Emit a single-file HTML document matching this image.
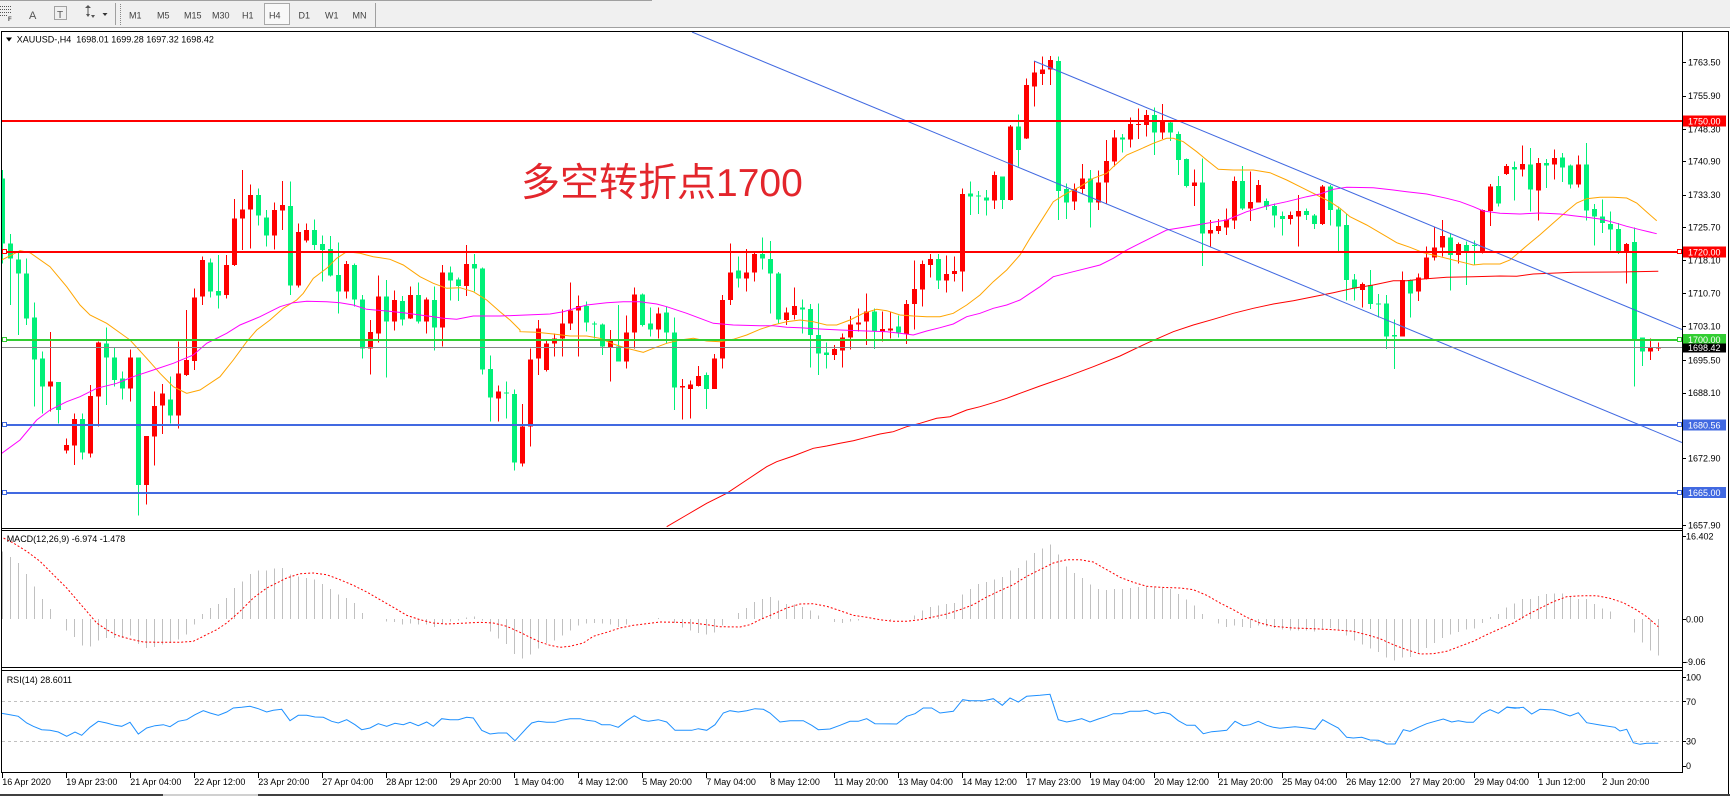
<!DOCTYPE html>
<html><head><meta charset="utf-8">
<style>
html,body{margin:0;padding:0;background:#fff;width:1730px;height:796px;overflow:hidden}
svg{display:block}
text{font-family:"Liberation Sans","Noto Sans CJK SC",sans-serif;font-size:9px;fill:#000}
.tb{fill:#404040;font-size:9px}
.ax{font-size:9px}
.bd{fill:#fff;font-size:9px}
</style></head><body>
<svg id="c" width="1730" height="796" viewBox="0 0 1730 796" xmlns="http://www.w3.org/2000/svg">
<defs>
<clipPath id="cm"><rect x="2" y="32" width="1680" height="496"/></clipPath>
<clipPath id="cd"><rect x="2" y="531" width="1680" height="136"/></clipPath>
<clipPath id="cr"><rect x="2" y="671" width="1680" height="101"/></clipPath>
</defs>
<rect width="1730" height="796" fill="#fff"/>
<!-- toolbar -->
<rect x="0" y="0" width="1730" height="27.5" fill="#f0f0f0"/>
<rect x="0" y="0" width="652" height="1" fill="#a0a0a0"/>
<rect x="0" y="27" width="1730" height="1" fill="#a0a0a0"/>
<g stroke="#555" stroke-width="1" stroke-dasharray="1 1" shape-rendering="crispEdges">
<line x1="0" y1="6.5" x2="11" y2="6.5"/><line x1="0" y1="9.5" x2="11" y2="9.5"/><line x1="0" y1="12.5" x2="11" y2="12.5"/><line x1="0" y1="15.5" x2="7" y2="15.5"/>
<rect x="54.5" y="6.5" width="12" height="13" fill="none"/>
</g>
<text x="8" y="21" style="font-size:6px;font-weight:bold;fill:#444">F</text>
<text x="29" y="19" style="font-size:11px;fill:#555">A</text>
<text x="57" y="18" style="font-size:10px;fill:#555">T</text>
<path d="M85 8 L88 5 L91 8 Z M86 14 L90 14 L88 17 Z M91 15 L95 15 L93 18 Z" fill="#555"/>
<line x1="88" y1="8" x2="88" y2="14" stroke="#555"/>
<path d="M102.5 13 L107.5 13 L105 16 Z" fill="#333"/>
<rect x="115" y="3" width="1" height="22" fill="#a0a0a0"/>
<g stroke="#888" stroke-dasharray="1 1"><line x1="120.5" y1="4" x2="120.5" y2="25"/></g>
<rect x="264.5" y="3.5" width="25" height="21" fill="#f8f8f8" stroke="#a8a8a8"/>
<text class="tb" x="129" y="18.5">M1</text>
<text class="tb" x="157" y="18.5">M5</text>
<text class="tb" x="184" y="18.5">M15</text>
<text class="tb" x="212" y="18.5">M30</text>
<text class="tb" x="242" y="18.5">H1</text>
<text class="tb" x="269" y="18.5">H4</text>
<text class="tb" x="298.5" y="18.5">D1</text>
<text class="tb" x="325" y="18.5">W1</text>
<text class="tb" x="352.5" y="18.5">MN</text>
<rect x="375" y="3" width="1" height="24" fill="#a0a0a0"/>

<!-- frames -->
<g shape-rendering="crispEdges" fill="#000">
<rect x="1" y="31" width="1728" height="1"/>
<rect x="1" y="31" width="1" height="742"/>
<rect x="1728" y="31" width="1" height="765"/>
<rect x="1682" y="31" width="1" height="742"/>
<rect x="1" y="528" width="1682" height="1"/>
<rect x="1" y="530" width="1682" height="1"/>
<rect x="1" y="667" width="1682" height="1"/>
<rect x="1" y="670" width="1682" height="1"/>
<rect x="1" y="772" width="1682" height="1"/>
<rect x="0" y="794" width="1730" height="2" fill="#404040"/>
<rect x="163" y="794" width="95" height="2" fill="#d0d0d0"/>
</g>

<g id="main" clip-path="url(#cm)"></g>
<g id="macd" clip-path="url(#cd)"></g>
<g id="rsi" clip-path="url(#cr)"></g>

<!-- title -->
<polygon points="6,37.5 12,37.5 9,41.5" fill="#000"/>
<text x="16.7" y="42.5" xml:space="preserve">XAUUSD-,H4  1698.01 1699.28 1697.32 1698.42</text>
<text x="6.7" y="542" >MACD(12,26,9) -6.974 -1.478</text>
<text x="6.7" y="683">RSI(14) 28.6011</text>

<text x="521" y="196" style="font-size:39px;fill:#e3262c">多空转折点1700</text>

<!-- price axis -->
<g id="ticks" fill="#000" shape-rendering="crispEdges"></g>
<g class="ax">
<text x="1688" y="65.6">1763.50</text>
<text x="1688" y="99">1755.90</text>
<text x="1688" y="132.3">1748.30</text>
<text x="1688" y="164.6">1740.90</text>
<text x="1688" y="198">1733.30</text>
<text x="1688" y="230.6">1725.70</text>
<text x="1688" y="263.6">1718.10</text>
<text x="1688" y="296.6">1710.70</text>
<text x="1688" y="329.3">1703.10</text>
<text x="1688" y="363.3">1695.50</text>
<text x="1688" y="396">1688.10</text>
<text x="1688" y="461.6">1672.90</text>
<text x="1688" y="528.3">1657.90</text>
<text x="1686" y="539.3">16.402</text>
<text x="1686" y="622.6">0.00</text>
<text x="1685" y="665">-9.06</text>
<text x="1686" y="680.6">100</text>
<text x="1686" y="705">70</text>
<text x="1686" y="744.6">30</text>
<text x="1686" y="769">0</text>
</g>
<!-- badges -->
<g shape-rendering="crispEdges">
<rect x="1683" y="115.5" width="43" height="11" fill="#ff0000"/>
<rect x="1683" y="246.5" width="43" height="11" fill="#ff0000"/>
<rect x="1683" y="334" width="43" height="10.5" fill="#32cd32"/>
<rect x="1683" y="343.5" width="43" height="9" fill="#000"/>
<rect x="1683" y="419.5" width="43" height="11" fill="#4169e1"/>
<rect x="1683" y="487" width="43" height="11" fill="#4169e1"/>
</g>
<text class="bd" x="1688" y="124.3">1750.00</text>
<text class="bd" x="1688" y="255.3">1720.00</text>
<text class="bd" x="1688" y="342.8">1700.00</text>
<text class="bd" x="1688" y="351">1698.42</text>
<text class="bd" x="1688" y="428.3">1680.56</text>
<text class="bd" x="1688" y="495.8">1665.00</text>

<!-- time axis -->
<g id="tt" fill="#000" shape-rendering="crispEdges"></g>
<g class="ax">
<text x="2.3" y="785">16 Apr 2020</text>
<text x="66.3" y="785">19 Apr 23:00</text>
<text x="130.3" y="785">21 Apr 04:00</text>
<text x="194.3" y="785">22 Apr 12:00</text>
<text x="258.3" y="785">23 Apr 20:00</text>
<text x="322.3" y="785">27 Apr 04:00</text>
<text x="386.3" y="785">28 Apr 12:00</text>
<text x="450.3" y="785">29 Apr 20:00</text>
<text x="514.3" y="785">1 May 04:00</text>
<text x="578.3" y="785">4 May 12:00</text>
<text x="642.3" y="785">5 May 20:00</text>
<text x="706.3" y="785">7 May 04:00</text>
<text x="770.3" y="785">8 May 12:00</text>
<text x="834.3" y="785">11 May 20:00</text>
<text x="898.3" y="785">13 May 04:00</text>
<text x="962.3" y="785">14 May 12:00</text>
<text x="1026.3" y="785">17 May 23:00</text>
<text x="1090.3" y="785">19 May 04:00</text>
<text x="1154.3" y="785">20 May 12:00</text>
<text x="1218.3" y="785">21 May 20:00</text>
<text x="1282.3" y="785">25 May 04:00</text>
<text x="1346.3" y="785">26 May 12:00</text>
<text x="1410.3" y="785">27 May 20:00</text>
<text x="1474.3" y="785">29 May 04:00</text>
<text x="1538.3" y="785">1 Jun 12:00</text>
<text x="1602.3" y="785">2 Jun 20:00</text>
</g>
</svg>
<script>
(function(){
var S='http://www.w3.org/2000/svg';
function el(tag,a,p){var e=document.createElementNS(S,tag);for(var k in a)e.setAttribute(k,a[k]);p.appendChild(e);return e;}
var M=document.getElementById('main'),D=document.getElementById('macd'),R=document.getElementById('rsi');
var G='#00f078',RD='#ff0000';
var C="g,445,640,420,700|g,640,685,612,825|g,688,730,665,915|g,730,865,685,885|g,862,988,818,1130|g,985,1070,965,1150|r,1055,1070,906,1145|g,1056,1140,1056,1180|r,1245,1262,1225,1270|r,1167,1247,1150,1305|g,1167,1268,1150,1288|r,1098,1270,1065,1282|r,938,1100,935,1190|g,940,983,893,1125|g,982,1050,952,1070|g,1045,1075,1025,1108|r,982,1075,958,1115|g,982,1365,982,1457|r,1218,1365,1218,1423|r,1128,1220,1085,1307|r,1090,1127,1062,1212|g,1108,1157,1040,1180|r,1030,1157,935,1195|r,990,1035,840,1038|r,802,993,775,1020|r,690,800,680,825|g,697,785,686,802|g,783,797,675,835|r,705,795,675,805|r,565,705,507,708|r,538,565,420,660|r,495,538,463,655|g,495,557,475,587|g,562,617,540,650|r,540,617,518,658|r,525,542,453,600|g,528,767,455,795|r,606,767,580,772|r,600,632,580,637|g,600,645,568,660|g,642,660,617,755|g,657,737,618,740|g,735,785,638,850|r,702,785,693,805|g,705,808,700,830|g,808,955,795,985|r,906,955,870,1033|r,800,910,737,937|g,800,875,750,1042|r,810,875,782,902|g,813,868,798,887|r,795,865,770,867|g,795,875,757,880|r,808,875,802,910|g,810,892,770,962|r,728,892,705,950|g,728,752,710,812|g,748,768,743,813|r,702,768,645,798|g,702,715,672,785|g,715,1018,712,1033|g,1017,1102,977,1175|r,1085,1105,1067,1175|g,1088,1090,1055,1165|g,1092,1297,1078,1322|r,1190,1300,1122,1310|r,988,1190,955,1250|r,895,985,870,1035|r,940,1020,930,1025|r,925,940,910,980|r,880,925,838,980|r,842,880,757,900|r,828,842,796,980|g,828,878,815,905|g,880,884,875,925|g,883,950,880,975|r,930,952,900,1055|g,950,995,825,995|r,907,995,857,1015|r,793,907,772,955|g,793,885,790,890|g,880,898,832,920|r,850,898,832,925|g,847,908,830,940|g,907,1072,862,1140|r,1068,1073,1047,1168|r,1063,1077,1052,1165|r,1038,1068,1008,1070|g,1035,1077,1028,1137|r,985,1077,972,1077|r,810,985,795,1015|r,727,810,640,825|g,722,745,680,772|r,727,745,657,785|r,672,728,668,755|g,672,685,622,718|g,687,730,633,850|g,730,868,726,880|r,847,870,832,885|r,828,855,772,868|g,832,838,808,910|g,837,915,822,1012|g,915,970,820,1035|g,968,975,938,1015|r,957,975,945,990|r,922,962,910,1012|r,883,922,858,958|r,877,883,835,905|r,845,875,790,945|g,845,903,835,957|r,897,905,845,935|r,895,902,845,925|g,890,908,857,922|r,822,912,810,942|r,777,822,692,898|r,702,778,692,830|r,687,705,672,742|g,687,752,672,777|r,732,752,677,787|r,723,732,680,755|r,492,725,475,785|g,490,500,455,555|g,497,500,483,552|g,502,512,480,557|r,435,512,425,537|g,440,510,440,537|r,290,510,285,512|g,290,360,253,410|r,165,325,145,327|r,128,170,95,230|r,118,132,80,165|r,90,118,78,165|g,93,483,80,570|g,477,518,460,567|r,477,515,460,540|r,445,477,402,490|g,445,518,420,593|r,457,517,422,540|r,393,458,330,520|r,322,395,300,410|g,322,328,312,367|r,282,328,262,353|r,282,284,235,327|r,255,285,240,320|g,255,308,232,375|r,275,308,222,327|g,278,308,275,333|g,312,390,305,435|g,387,468,385,472|r,457,468,418,528|g,457,610,385,708|r,600,610,570,652|r,588,603,567,612|r,568,593,535,615|r,453,572,440,597|g,453,535,408,540|r,516,535,425,573|r,465,518,450,518|g,513,530,505,540|g,528,557,520,593|g,558,567,545,617|r,555,567,545,583|r,543,560,495,650|g,543,555,535,570|g,557,582,552,597|r,470,582,465,585|g,470,540,465,587|g,538,590,530,665|g,585,750,550,812|g,748,775,732,812|r,762,780,757,833|g,765,822,720,837|g,820,822,792,862|g,820,920,795,957|g,915,920,868,1017|r,750,920,725,920|g,750,790,748,862|r,742,785,730,813|r,682,747,650,748|r,652,682,590,692|r,618,652,570,680|g,622,675,610,782|r,642,675,638,700|g,645,665,635,765|g,645,647,632,705|r,540,665,538,670|r,470,543,462,588|g,468,520,438,530|r,408,432,402,435|g,411,419,394,512|r,402,419,347,439|g,404,479,354,544|r,399,482,384,572|g,399,407,387,474|r,384,404,359,449|g,382,412,369,456|g,407,464,404,476|r,404,464,377,472|g,404,542,339,572|g,537,559,522,646|g,559,579,509,609|g,582,599,544,662|g,597,664,579,672|r,642,666,639,761|g,636,932,592,1070|g,923,965,923,1008|r,953,965,925,990|r,952,956,938,963".split('|');
var cg=el('g',{'shape-rendering':'crispEdges'},M);
for(var n=0;n<C.length;n++){var a=C[n].split(','),col=a[0]=='r'?RD:G;
 var bt=30+(+a[1])/3,bb=30+(+a[2])/3,wt=30+(+a[3])/3,wb=30+(+a[4])/3;
 el('rect',{x:2+8*n,y:wt.toFixed(1),width:1,height:Math.max(1,wb-wt).toFixed(1),fill:col},cg);
 el('rect',{x:8*n,y:bt.toFixed(1),width:5,height:Math.max(1,bb-bt).toFixed(1),fill:col},cg);
}
function P(x0,y0,a){return a.map(function(p){return (x0+p[0]/3).toFixed(1)+','+(y0+p[1]/3).toFixed(1);}).join(' ');}
function pl(par,pts,col,ex){var o={points:pts,fill:'none',stroke:col,'stroke-width':1};for(var k in (ex||{}))o[k]=ex[k];el('polyline',o,par);}
// MAs
pl(M,[P(0,30,[[5,690],[60,662],[90,668],[150,710],[200,770],[240,825],[270,855],[320,880],[390,930],[440,985],[480,1030],[520,1070],[560,1090],[600,1080],[660,1040],[700,990],[740,935],[770,900],[810,870],[850,835],[890,810],[910,790],[940,745],[980,715],[1010,685],[1040,665],[1080,670],[1120,680],[1170,688],[1210,705],[1260,740],[1300,760],[1340,775],[1380,773],[1420,785],[1460,810],[1500,845],[1530,870],[1560,900]]),
P(520,30,[[0,905],[50,907],[100,912],[150,918],[200,918],[240,925],[280,942],[320,955],[370,967],[400,955],[440,940],[480,930],[520,925],[560,933],[600,935],[640,928],[680,915],[720,898],[760,885],[800,875],[840,870],[880,875],[920,885],[950,885],[990,870],[1030,850],[1070,838],[1100,842],[1140,855],[1180,858],[1220,860],[1260,860],[1300,850],[1340,825],[1380,795],[1420,755],[1460,720],[1500,675],[1530,625],[1560,578]]),
P(1040,30,[[40,515],[80,490],[120,470],[160,445],[200,430],[220,410],[260,375],[300,358],[340,340],[380,325],[400,325],[430,335],[470,365],[500,390],[535,418],[580,420],[640,420],[690,428],[740,450],[790,475],[830,495],[870,515],[900,535],[930,560],[980,585],[1040,620],[1070,638],[1110,652],[1150,668],[1200,680],[1240,690],[1280,700],[1300,705],[1330,702],[1380,702],[1410,690]]),
P(1500,28,[[40,688],[80,653],[120,620],[160,585],[200,550],[230,525],[260,512],[300,508],[340,508],[380,510],[410,525],[440,552],[470,578]])].join(' '),'#ffa500');
pl(M,[P(0,30,[[5,1270],[60,1230],[110,1170],[150,1140],[200,1115],[240,1100],[290,1075],[350,1060],[400,1040],[460,1020],[520,1000],[580,975],[620,940],[680,910],[720,885],[780,860],[840,830],[880,818],[920,814],[980,815],[1020,818],[1060,825],[1100,838],[1160,843],[1210,848],[1260,855],[1300,860],[1330,865],[1370,868],[1420,858],[1500,858],[1560,856]]),
P(520,30,[[90,852],[130,845],[200,825],[260,818],[310,815],[360,815],[410,822],[440,830],[500,850],[540,865],[580,880],[640,885],[720,887],[760,887],[800,892],[840,893],[900,897],[960,900],[1040,903],[1100,905],[1140,910],[1180,915],[1220,903],[1260,893],[1300,882],[1340,860],[1380,850],[1420,835],[1460,825],[1500,810],[1530,790],[1560,770]]),
P(1040,30,[[40,740],[100,725],[180,705],[220,685],[260,660],[300,640],[340,620],[380,600],[440,590],[500,580],[560,570],[620,545],[680,528],[740,515],[800,500],[840,492],[880,478],[920,472],[1000,473],[1060,480],[1100,485],[1160,492],[1220,505],[1260,515],[1300,530],[1330,543],[1380,550]]),
P(1500,28,[[60,558],[120,555],[180,558],[220,563],[260,568],[300,573],[340,583],[380,595],[420,605],[470,617]])].join(' '),'#ff00ff');
pl(M,[P(520,30,[[440,1490],[500,1455],[560,1420],[620,1390],[680,1350],[740,1310],[770,1295],[820,1278],[880,1255],[920,1248],[960,1240],[1000,1232],[1040,1222],[1080,1212],[1120,1205],[1160,1190],[1200,1180],[1250,1165],[1290,1160],[1340,1140],[1380,1130],[1420,1118],[1460,1105],[1500,1090],[1560,1068]]),
P(1040,30,[[80,1040],[160,1010],[240,978],[320,940],[400,905],[460,885],[520,868],[580,850],[640,835],[700,822],[760,812],[820,800],[880,788],[940,775],[1000,765],[1060,752],[1100,752],[1140,748],[1220,742],[1300,740],[1380,738]]),
P(1500,28,[[50,745],[100,738],[220,733],[360,732],[475,730]])].join(' '),'#ff0000');
// trend lines
el('line',{x1:692,y1:32,x2:1682,y2:442.5,stroke:'#4169e1','stroke-width':1},M);
el('line',{x1:1034,y1:61,x2:1682,y2:329.5,stroke:'#4169e1','stroke-width':1},M);
// horizontal lines
var hg=el('g',{'shape-rendering':'crispEdges'},M);
el('rect',{x:2,y:120,width:1680,height:2,fill:'#ff0000'},hg);
el('rect',{x:2,y:251,width:1680,height:2,fill:'#ff0000'},hg);
el('rect',{x:2,y:347,width:1680,height:1,fill:'#888'},hg);
el('rect',{x:2,y:339,width:1680,height:2,fill:'#32cd32'},hg);
el('rect',{x:2,y:424,width:1680,height:2,fill:'#4169e1'},hg);
el('rect',{x:2,y:492,width:1680,height:2,fill:'#4169e1'},hg);
[[252,'#ff0000'],[340,'#32cd32'],[425,'#4169e1'],[493,'#4169e1']].forEach(function(m){
 el('rect',{x:2.5,y:m[0]-2.5,width:4,height:4,fill:'#fff',stroke:m[1],'stroke-width':1},M);
 el('rect',{x:1677.5,y:m[0]-2.5,width:4,height:4,fill:'#fff',stroke:m[1],'stroke-width':1},M);
});
// MACD histogram
var H=[70,87,105,138,175,213,243,273,308,327,352,355,338,330,330,330,322,348,360,357,350,345,335,320,290,258,240,228,210,180,160,138,128,128,122,120,140,145,150,155,168,183,200,210,225,255,272,273,280,282,290,287,290,290,297,287,280,277,268,265,278,310,332,348,378,392,380,362,345,338,323,308,293,287,285,287,290,297,290,273,273,273,270,272,285,298,308,315,320,313,293,272,255,240,222,213,207,218,228,230,237,248,263,273,282,285,280,278,273,273,274,276,272,272,263,248,237,233,228,225,200,183,168,162,155,147,127,120,97,75,62,50,80,115,135,150,170,183,186,183,183,180,177,175,178,180,183,198,215,232,258,273,287,297,293,297,300,293,295,300,305,308,307,308,310,302,300,305,322,338,350,362,372,388,398,388,387,378,360,345,330,320,312,305,302,285,267,258,238,226,213,213,204,198,196,196,204,213,213,228,241,251,271,274,314,344,368,383];
var hgd=el('g',{'shape-rendering':'crispEdges'},D);
for(var i=0;i<H.length;i++){var y=528+H[i]/3,z=619;if(Math.abs(y-z)<0.7)continue;
 el('rect',{x:2+8*i,y:Math.min(y,z).toFixed(1),width:1,height:Math.abs(y-z).toFixed(1),fill:'#c0c0c0'},hgd);}
pl(D,[P(0,528,[[0,25],[40,45],[80,70],[120,100],[160,140],[200,180],[230,215],[260,250],[290,285],[320,305],[350,322],[390,333],[430,342],[480,343],[540,343],[580,340],[610,325],[650,305],[680,285],[720,250],[760,210],[800,180],[830,165],[860,150],[900,137],[940,135],[980,140],[1020,155],[1060,172],[1100,192],[1140,215],[1180,238],[1220,262],[1260,275],[1300,285],[1340,288],[1400,285],[1440,283],[1480,285],[1520,295],[1560,313]]),
P(520,528,[[30,328],[60,342],[90,352],[120,358],[150,355],[190,345],[220,325],[260,313],[300,300],[340,292],[380,287],[420,282],[470,283],[520,285],[560,290],[600,296],[660,297],[690,290],[720,275],[760,258],[800,240],[840,228],[880,227],[920,235],[960,248],[1000,262],[1040,268],[1080,275],[1120,280],[1160,280],[1200,275],[1240,267],[1280,258],[1320,245],[1360,230],[1400,207],[1440,188],[1480,170],[1520,145],[1560,125]]),
P(1040,528,[[40,105],[80,95],[120,95],[160,102],[200,125],[240,148],[280,163],[320,175],[360,178],[420,180],[460,185],[500,202],[540,225],[580,245],[620,268],[660,285],[700,295],[760,300],[820,302],[880,305],[940,310],[980,320],[1020,332],[1060,350],[1100,365],[1140,378],[1180,377],[1220,370],[1260,355],[1300,340],[1340,320],[1380,302],[1420,285]]),
P(1500,530,[[80,255],[120,235],[160,215],[200,200],[250,197],[290,197],[330,205],[370,218],[410,240],[440,260],[475,290]])].join(' '),'#ff0000',{'stroke-dasharray':'2 2'});
// RSI levels
el('line',{x1:2,y1:701.5,x2:1682,y2:701.5,stroke:'#c0c0c0','stroke-dasharray':'3 3'},R);
el('line',{x1:2,y1:741.5,x2:1682,y2:741.5,stroke:'#c0c0c0','stroke-dasharray':'3 3'},R);
pl(R,[P(0,528,[[0,555],[30,560],[55,565],[80,585],[100,595],[125,605],[150,607],[175,612],[200,625],[225,612],[245,622],[270,598],[295,580],[320,585],[345,592],[365,595],[390,583],[415,618],[440,600],[465,593],[490,590],[510,596],[535,580],[560,575],[585,560],[610,548],[630,555],[655,562],[680,552],[700,540],[725,538],[750,535],[775,542],[800,552],[820,547],[845,544],[870,578],[895,562],[920,562],[945,567],[970,568],[995,580],[1015,585],[1040,575],[1065,590],[1085,605],[1110,600],[1135,587],[1160,595],[1185,586],[1210,590],[1230,583],[1255,593],[1280,582],[1300,595],[1325,572],[1350,575],[1375,575],[1400,568],[1420,570],[1445,607],[1470,618],[1495,615],[1520,615],[1545,638]]),
P(520,528,[[0,622],[20,600],[35,585],[55,580],[80,583],[105,583],[125,577],[150,572],[180,572],[200,577],[225,580],[245,590],[270,590],[295,598],[320,578],[343,563],[365,576],[385,580],[415,575],[440,582],[465,607],[515,607],[535,602],[560,607],[585,590],[610,555],[630,548],[655,552],[680,548],[705,542],[730,544],[750,555],[780,582],[810,578],[850,578],[875,592],[895,605],[930,603],[960,592],[990,580],[1015,580],[1040,572],[1065,587],[1130,588],[1160,565],[1185,557],[1210,540],[1235,540],[1260,555],[1300,550],[1328,515],[1350,518],[1390,518],[1420,512],[1447,532],[1470,510],[1495,522],[1520,505],[1560,502]]),
P(1040,528,[[30,499],[55,575],[80,582],[100,578],[125,572],[150,582],[175,573],[200,565],[220,557],[245,557],[270,550],[300,550],[320,547],[345,558],[370,553],[390,558],[415,578],[440,592],[465,592],[490,617],[515,611],[540,609],[560,607],[585,580],[610,593],[630,590],[655,580],[680,592],[700,598],[720,601],[765,596],[800,600],[825,604],[848,575],[870,587],[895,600],[920,628],[940,630],[965,628],[990,636],[1015,637],[1040,648],[1065,648],[1090,605],[1110,610],[1135,598],[1160,587],[1185,580],[1210,573],[1235,582],[1255,578],[1280,583],[1300,583],[1325,558],[1350,545],[1375,556],[1400,538],[1440,540]]),
P(1500,530,[[20,532],[45,535],[70,532],[95,552],[120,538],[160,540],[210,558],[235,548],[260,578],[300,585],[345,592],[360,603],[380,598],[400,638],[420,643],[440,640],[475,640]])].join(' '),'#1e90ff');
// ticks
var T=document.getElementById('ticks');
[62.3,95.7,129,161.3,194.7,227.3,260.3,293.3,326,360,392.7,458.3,525,536,619,662,677,701,741,766].forEach(function(y){el('rect',{x:1683,y:Math.round(y),width:3,height:1},T);});
var TT=document.getElementById('tt');
for(var k=0;k<26;k++)el('rect',{x:2+64*k,y:773,width:1,height:5},TT);
})();
</script>
</body></html>
